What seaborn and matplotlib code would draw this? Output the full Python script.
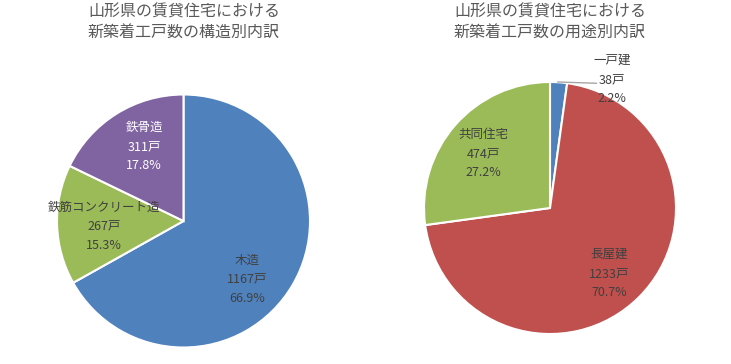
import numpy as np
import seaborn as sns
import matplotlib.pyplot as plt

sns.set_theme(style="white")
plt.rcParams['font.family'] = ['Noto Sans CJK JP', 'DejaVu Sans']

# data
struct_labels = ['木造', '鉄筋コンクリート造', '鉄骨造']
struct_counts = [1167, 267, 311]
struct_pcts = ['66.9%', '15.3%', '17.8%']

use_labels = ['一戸建', '長屋建', '共同住宅']
use_counts = [38, 1233, 474]
use_pcts = ['2.2%', '70.7%', '27.2%']

blue, red, green, purple = '#4F81BD', '#C0504D', '#9BBB59', '#8064A2'
struct_colors = [blue, green, purple]
use_colors = [blue, red, green]

# label anchor positions (in pie radius units)
struct_pos = [(0.50, -0.46), (-0.63, -0.04), (-0.31, 0.59)]
struct_txtcol = ['#404040', '#404040', 'white']
use_pos = [(0.49, 1.02), (0.47, -0.52), (-0.53, 0.43)]
use_txtcol = ['#404040', '#404040', '#404040']

W, H = 731, 364
fig = plt.figure(figsize=(W / 100, H / 100), dpi=100)


def pie_axes(cx, cy, r):
    return fig.add_axes([(cx - r) / W, (H - cy - r) / H, 2 * r / W, 2 * r / H])


def draw(ax, counts, colors, labels, pcts, pos, txtcol):
    ax.pie(counts, colors=colors, startangle=90, counterclock=False,
           wedgeprops=dict(edgecolor='white', linewidth=1.5))
    ax.set_xlim(-1, 1)
    ax.set_ylim(-1, 1)
    ax.set_aspect('equal')
    ax.axis('off')
    for lab, n, p, (x, y), c in zip(labels, counts, pcts, pos, txtcol):
        ax.text(x, y, f'{lab}\n{n}戸\n{p}', ha='center', va='center',
                fontsize=9, color=c, linespacing=1.6)


ax1 = pie_axes(183.5, 221, 126.5)
draw(ax1, struct_counts, struct_colors, struct_labels, struct_pcts,
     struct_pos, struct_txtcol)

ax2 = pie_axes(550, 208, 126)
draw(ax2, use_counts, use_colors, use_labels, use_pcts, use_pos, use_txtcol)
# leader line for small slice
ax2.plot([0.06, 0.37], [1.0, 0.99], color='#A6A6A6', lw=1.0, clip_on=False)

fig.text(184 / W, 1 - 23 / H, '山形県の賃貸住宅における\n新築着工戸数の構造別内訳',
         ha='center', va='center', fontsize=11.5, color='#595959', linespacing=1.3)
fig.text(550 / W, 1 - 23 / H, '山形県の賃貸住宅における\n新築着工戸数の用途別内訳',
         ha='center', va='center', fontsize=11.5, color='#595959', linespacing=1.3)

fig.savefig('out.png', dpi=100)
